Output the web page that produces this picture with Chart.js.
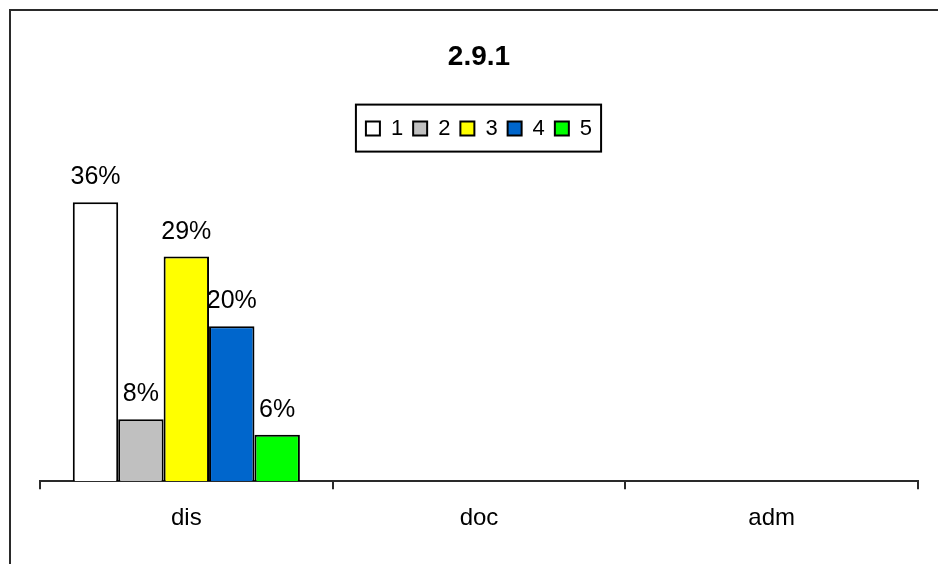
<!DOCTYPE html>
<html lang="en">
  <head>
    <meta charset="UTF-8" />
    <title>2.9.1</title>
    <style>
      body { margin: 0; background: #fff; }
      .wrap { position: relative; width: 938px; height: 564px; overflow: hidden; }
      .frame {
        position: absolute; left: 9px; top: 9px; right: -10px; bottom: -10px;
        border-left: 2px solid #2a2a2a; border-top: 2px solid #2a2a2a;
        pointer-events: none;
      }
      canvas { position: absolute; left: 0; top: 0; }
    </style>
  </head>
  <body>
    <div class="wrap">
      <canvas id="myChart" width="938" height="564"></canvas>
      <div class="frame"></div>
    </div>

    <script src="https://cdn.jsdelivr.net/npm/chart.js"></script>
    <script>
      // values (percent)
      const categories = ["dis", "doc", "adm"];
      const seriesNames = ["1", "2", "3", "4", "5"];
      const disValues = [36, 8, 29, 20, 6];
      const docValues = [null, null, null, null, null];
      const admValues = [null, null, null, null, null];
      const seriesColors = ["#ffffff", "#c0c0c0", "#ffff00", "#0066cc", "#00ff00"];

      const FONT = "'Liberation Sans', Arial, sans-serif";

      const datasets = seriesNames.map((name, i) => ({
        label: name,
        data: [disValues[i], docValues[i], admValues[i]],
        backgroundColor: seriesColors[i],
        borderColor: "#000",
        borderWidth: 2,
        barPercentage: 1,
        categoryPercentage: 0.776
      }));

      // percent labels above each bar
      const valueLabels = {
        id: "valueLabels",
        afterDatasetsDraw(chart) {
          const ctx = chart.ctx;
          ctx.save();
          ctx.font = "25px " + FONT;
          ctx.fillStyle = "#000";
          ctx.textAlign = "center";
          ctx.textBaseline = "alphabetic";
          chart.data.datasets.forEach((ds, i) => {
            chart.getDatasetMeta(i).data.forEach((bar, j) => {
              const v = ds.data[j];
              if (v === null || v === undefined) return;
              ctx.fillText(v + "%", bar.x, bar.y - 18);
            });
          });
          ctx.restore();
        }
      };

      // box round the legend
      const legendFrame = {
        id: "legendFrame",
        afterDraw(chart) {
          const lg = chart.legend;
          if (!lg || !lg.legendHitBoxes.length) return;
          const boxes = lg.legendHitBoxes;
          const left = Math.min(...boxes.map(b => b.left)) - 10;
          const right = Math.max(...boxes.map(b => b.left + b.width)) + 9;
          const top = lg.top - 3;
          const ctx = chart.ctx;
          ctx.save();
          ctx.strokeStyle = "#000";
          ctx.lineWidth = 2;
          ctx.strokeRect(left, top, right - left, 47);
          ctx.restore();
        }
      };

      new Chart(document.getElementById("myChart"), {
        type: "bar",
        data: { labels: categories, datasets },
        plugins: [valueLabels, legendFrame],
        options: {
          responsive: false,
          animation: false,
          layout: { padding: { left: 40, right: 20, top: 0, bottom: 16 } },
          plugins: {
            title: {
              display: true,
              text: "2.9.1",
              color: "#000",
              font: { family: FONT, size: 28, weight: "bold" },
              padding: { top: 40, bottom: 34 }
            },
            legend: {
              display: true,
              labels: {
                color: "#000",
                font: { family: FONT, size: 22 },
                boxWidth: 14,
                boxHeight: 14,
                padding: 10
              }
            },
            tooltip: { enabled: false }
          },
          scales: {
            x: {
              offset: true,
              grid: {
                display: true,
                offset: true,
                drawOnChartArea: false,
                drawTicks: true,
                tickLength: 8,
                color: "#2a2a2a",
                lineWidth: 2
              },
              border: { display: true, color: "#2a2a2a", width: 2 },
              ticks: {
                color: "#000",
                font: { family: FONT, size: 24 },
                padding: 15
              }
            },
            y: {
              display: false,
              min: 0,
              max: 42.8
            }
          }
        }
      });
    </script>
  </body>
</html>
